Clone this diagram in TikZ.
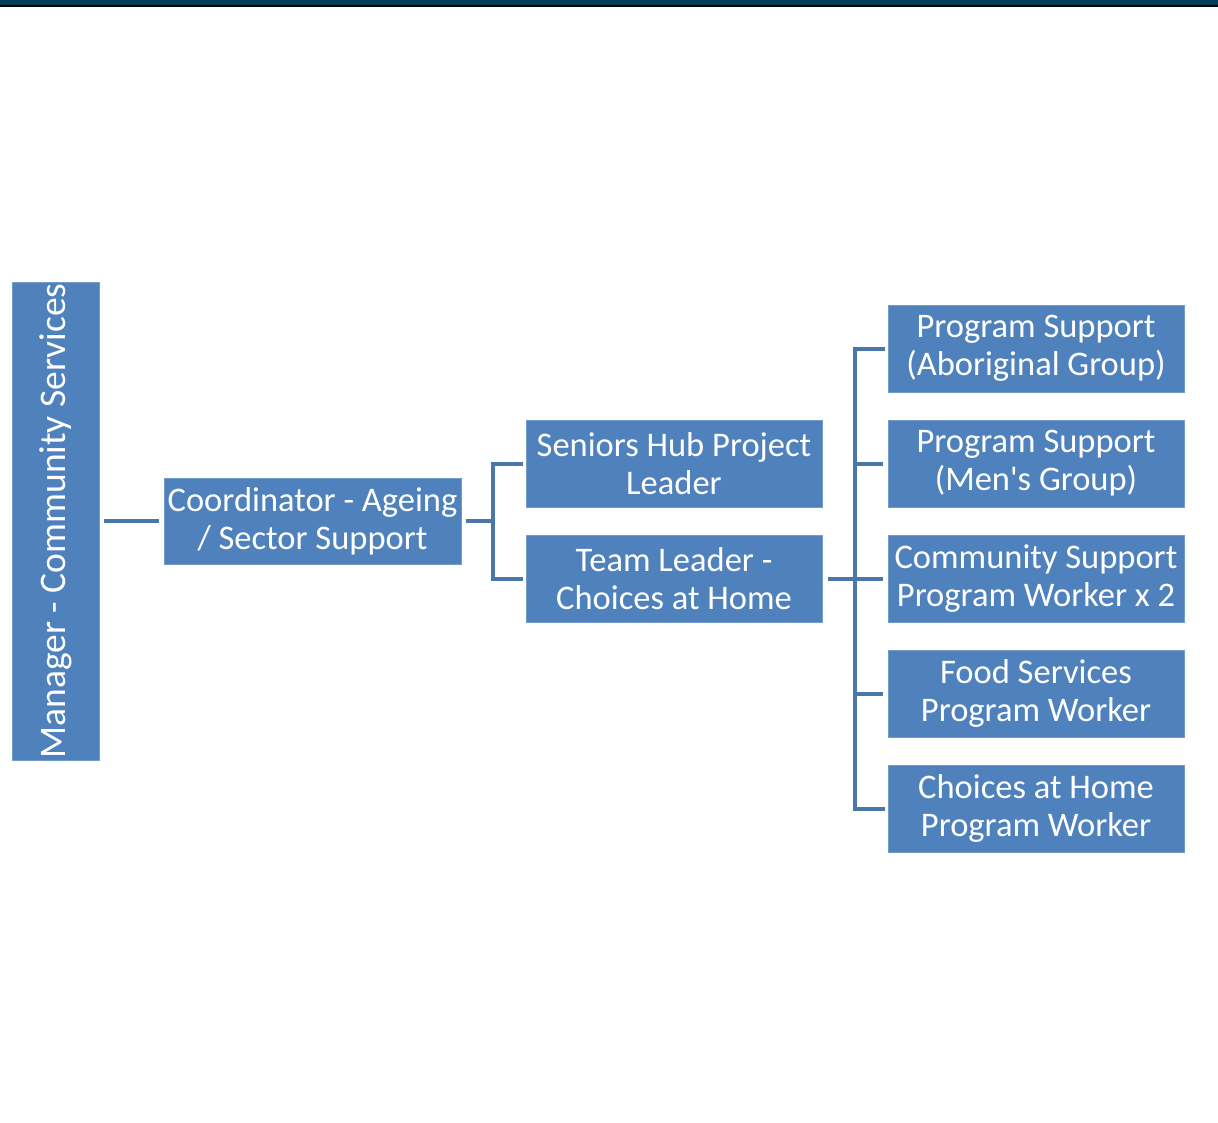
\documentclass[tikz,border=0pt]{standalone}
\usepackage{fontspec}
\setmainfont{Carlito}
\definecolor{boxblue}{HTML}{4F81BD}
\definecolor{lineblue}{HTML}{4A76AA}
\definecolor{topteal}{HTML}{003D5B}
\begin{document}
\begin{tikzpicture}[x=1pt,y=-1pt,
  rolebox/.style={fill=boxblue, draw=boxblue!80!white, line width=0.6pt, text=white, align=center,
    minimum width=296pt, minimum height=87pt, inner sep=0pt, font=\fontsize{34.5}{38}\selectfont},
  conn/.style={draw=lineblue, line width=4pt}]
\useasboundingbox (0,0) rectangle (1218,1122);
\fill[white] (0,0) rectangle (1218,1122);
\fill[topteal] (0,0) rectangle (1218,5);
\fill[black] (0,5) rectangle (1218,7);
% nodes
\node[rolebox, minimum width=87pt, minimum height=478pt] (mgr) at (55.5,521) {};
\node[text=white, rotate=90, font=\fontsize{37.5}{40}\selectfont, inner sep=0pt] (mgrtext) at (55.5,521) {Manager - Community Services};
\node[rolebox, minimum width=297pt, minimum height=86pt] (coord) at (312.5,521) {Coordinator - Ageing\\/ Sector Support};
\node[rolebox] (hub) at (674,463.5) {Seniors Hub Project\\Leader};
\node[rolebox] (team) at (674,578.5) {Team Leader -\\Choices at Home};
\node[rolebox] (abo) at (1036,348.5) {Program Support\\(Aboriginal Group)};
\node[rolebox] (men) at (1036,463.5) {Program Support\\(Men\textquotesingle s Group)};
\node[rolebox] (com) at (1036,578.5) {Community Support\\Program Worker x 2};
\node[rolebox] (food) at (1036,693.5) {Food Services\\Program Worker};
\node[rolebox] (cah) at (1036,808.5) {Choices at Home\\Program Worker};
% connectors
\coordinate (j1) at (493,521);
\coordinate (j2) at (855,578.5);
\draw[conn] ([xshift=5pt]mgr.east |- coord.west) -- ([xshift=-5pt]coord.west);
\draw[conn] ([xshift=5pt]coord.east) -- (j1);
\draw[conn, line cap=rect] ([xshift=-5pt]hub.west) -| (j1 |- hub.west) -- (j1 |- team.west) -- ([xshift=-5pt]team.west);
\draw[conn] ([xshift=6pt]team.east) -- (j2);
\draw[conn, line cap=rect] ([xshift=-5pt]abo.west) -| (j2 |- abo.west) -- (j2 |- cah.west) -- ([xshift=-5pt]cah.west);
\draw[conn] (j2 |- men.west) -- ([xshift=-5pt]men.west);
\draw[conn] (j2 |- com.west) -- ([xshift=-5pt]com.west);
\draw[conn] (j2 |- food.west) -- ([xshift=-5pt]food.west);
\end{tikzpicture}
\end{document}
